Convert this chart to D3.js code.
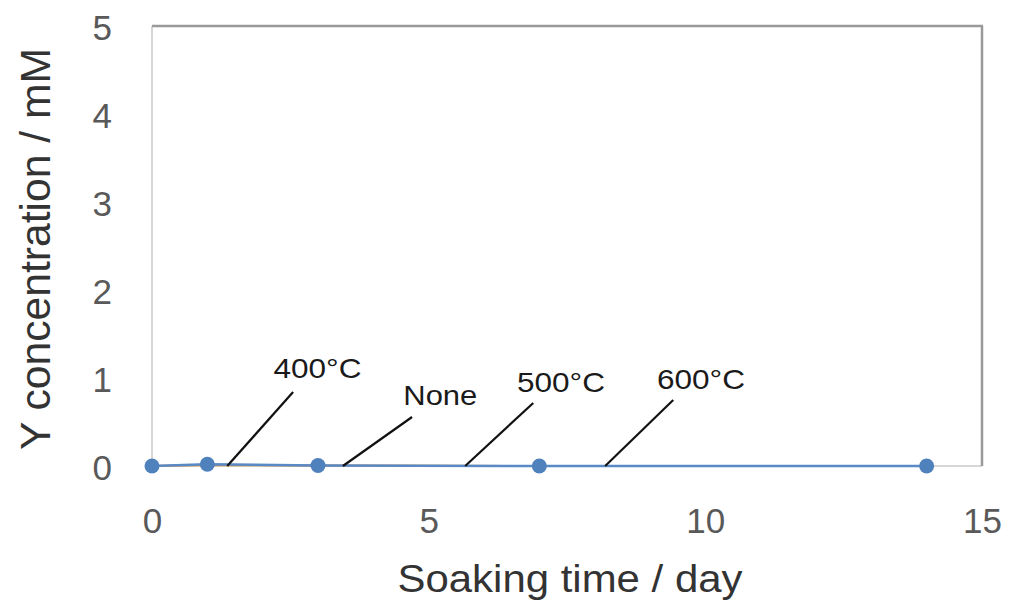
<!DOCTYPE html>
<html>
<head>
<meta charset="utf-8">
<script src="https://cdn.jsdelivr.net/npm/d3@7"></script>
<style>
  html, body { margin: 0; padding: 0; background: #fff; }
  svg { display: block; }
  text { font-family: "Liberation Sans", Arial, sans-serif; }
</style>
</head>
<body>
<svg id="chart" width="1012" height="609"></svg>
<script>
// ---- data ----
const days = [0, 1, 3, 7, 14];
const seriesNames = ["600°C", "500°C", "None", "400°C"];
const seriesColors = ["#f2b134", "#a5a5a5", "#ed7d31", "#4f81bd"];
const values600 = [0, 0.005, 0.005, 0.0, 0.0];
const values500 = [0, 0.01, 0.005, 0.0, 0.0];
const valuesNone = [0, 0.015, 0.005, 0.0, 0.0];
const values400 = [0, 0.02, 0.005, 0.0, 0.0];
const xTicks = [0, 5, 10, 15];
const yTicks = [0, 1, 2, 3, 4, 5];
const xTitle = "Soaking time / day";
const yTitle = "Y concentration / mM";
// annotation labels (data units)
const annLabels = ["400°C", "None", "500°C", "600°C"];
const annTextX = [2.99, 5.21, 7.39, 9.92];
const annTextY = [1.0, 0.69, 0.84, 0.875];
const annTopX = [2.55, 4.70, 6.89, 9.42];
const annTopY = [0.84, 0.557, 0.716, 0.75];
const annBotX = [1.36, 3.45, 5.66, 8.19];
const annBotY = [0, 0, 0, 0];

const allValues = [values600, values500, valuesNone, values400];

const svg = d3.select("#chart");
const mLeft = 152, mRight = 982, mTop = 26, mBottom = 466;

const x = d3.scaleLinear().domain([0, 15]).range([mLeft, mRight]);
const y = d3.scaleLinear().domain([0, 5]).range([mBottom, mTop]);

// frame
svg.append("line").attr("x1", mLeft).attr("x2", mLeft).attr("y1", mTop).attr("y2", mBottom)
  .attr("stroke", "#c8c8c8").attr("stroke-width", 1.5);
svg.append("line").attr("x1", mLeft).attr("x2", mRight).attr("y1", mBottom).attr("y2", mBottom)
  .attr("stroke", "#c8c8c8").attr("stroke-width", 1.5);
svg.append("line").attr("x1", mLeft).attr("x2", mRight + 1).attr("y1", mTop).attr("y2", mTop)
  .attr("stroke", "#999").attr("stroke-width", 2.5);
svg.append("line").attr("x1", mRight).attr("x2", mRight).attr("y1", mTop).attr("y2", mBottom)
  .attr("stroke", "#999").attr("stroke-width", 2.5);

// axes
const xAxis = svg.append("g").attr("transform", `translate(0,${mBottom})`)
  .call(d3.axisBottom(x).tickValues(xTicks).tickSize(0).tickPadding(42).tickFormat(d3.format("d")));
xAxis.select(".domain").remove();
xAxis.selectAll("text").attr("font-size", 35).attr("fill", "#595959")
  .attr("font-family", "'Liberation Sans', Arial, sans-serif");

const yAxis = svg.append("g").attr("transform", `translate(${mLeft},0)`)
  .call(d3.axisLeft(y).tickValues(yTicks).tickSize(0).tickPadding(40).tickFormat(d3.format("d")));
yAxis.select(".domain").remove();
yAxis.selectAll("text").attr("font-size", 35).attr("fill", "#595959").attr("dy", "0.38em")
  .attr("font-family", "'Liberation Sans', Arial, sans-serif");

// titles
svg.append("text").attr("x", 570).attr("y", 592).attr("text-anchor", "middle")
  .attr("font-size", 38).attr("fill", "#333")
  .attr("textLength", 345).attr("lengthAdjust", "spacingAndGlyphs").text(xTitle);
svg.append("text").attr("transform", `translate(50,249) rotate(-90)`).attr("text-anchor", "middle")
  .attr("font-size", 42).attr("fill", "#333")
  .attr("textLength", 402).attr("lengthAdjust", "spacingAndGlyphs").text(yTitle);

// series
const line = d3.line().x((d, i) => x(days[i])).y(d => y(d));
allValues.forEach((vals, si) => {
  const isTop = si === allValues.length - 1;
  svg.append("path").datum(vals).attr("d", line).attr("fill", "none")
    .attr("stroke", isTop ? "#5a8ac6" : seriesColors[si])
    .attr("stroke-width", isTop ? 2.5 : 2).attr("opacity", isTop ? 1 : 0.6);
  svg.selectAll(null).data(vals).enter().append("circle")
    .attr("cx", (d, i) => x(days[i])).attr("cy", d => y(d))
    .attr("r", isTop ? 7.5 : 5)
    .attr("fill", isTop ? "#4f81bd" : seriesColors[si]).attr("opacity", isTop ? 1 : 0.6);
});

// annotations
annLabels.forEach((lab, i) => {
  svg.append("line")
    .attr("x1", x(annTopX[i])).attr("y1", y(annTopY[i]))
    .attr("x2", x(annBotX[i])).attr("y2", y(annBotY[i]))
    .attr("stroke", "#111").attr("stroke-width", 2.2);
  svg.append("text").attr("x", x(annTextX[i])).attr("y", y(annTextY[i]))
    .attr("text-anchor", "middle").attr("font-size", 28).attr("fill", "#1a1a1a")
    .attr("textLength", lab === "None" ? 74 : 88).attr("lengthAdjust", "spacingAndGlyphs")
    .text(lab);
});
</script>
</body>
</html>
